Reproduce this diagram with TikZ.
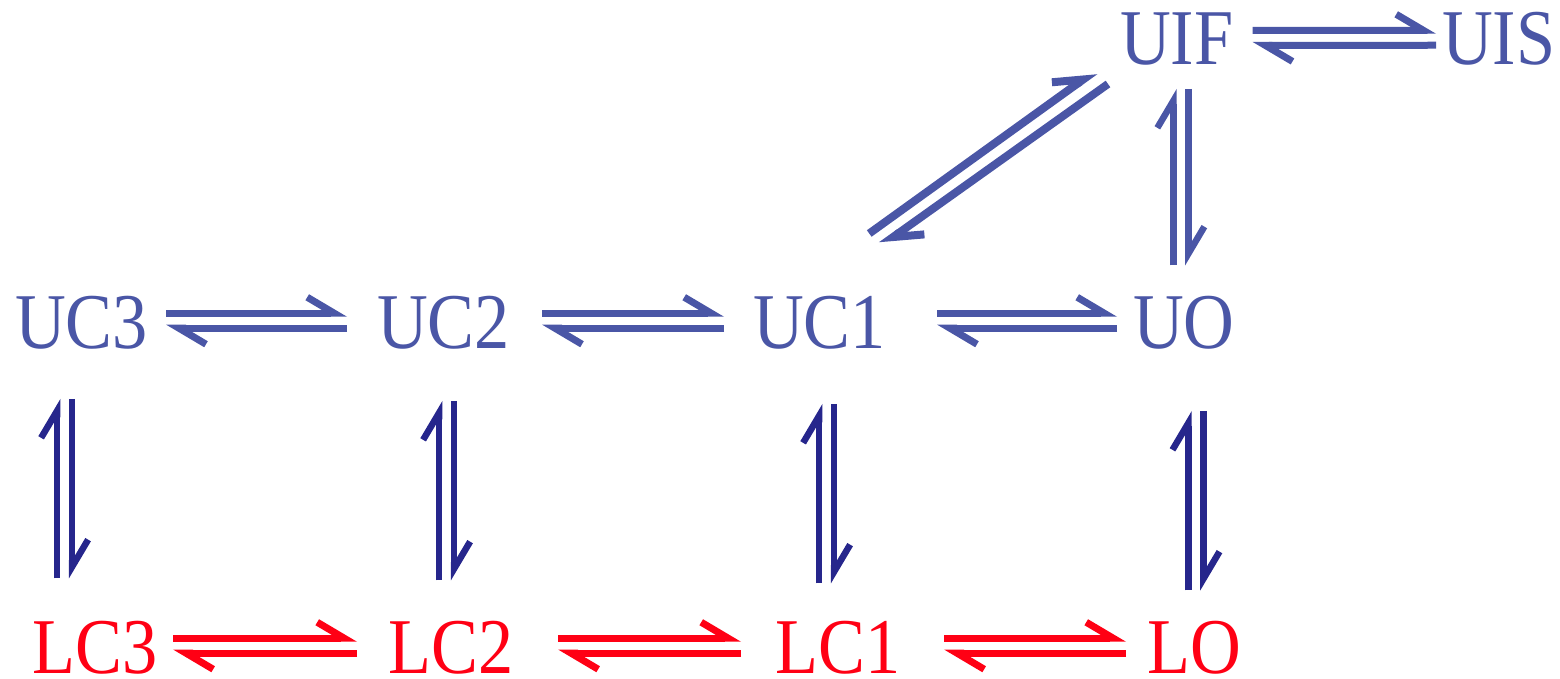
\documentclass[tikz,border=0pt]{standalone}
\usepackage{fontspec}
\setmainfont[FakeStretch=0.89]{Liberation Serif}
\usetikzlibrary{arrows.meta,calc}
\definecolor{ublue}{RGB}{74,86,166}
\definecolor{vblue}{RGB}{38,38,140}
\definecolor{lred}{RGB}{255,0,20}
\tikzset{
  lab/.style={anchor=base west, inner sep=0pt, font=\fontsize{79}{90}\selectfont},
  harp/.style={-{Straight Barb[left,length=27pt,width=32pt]}, line width=7pt},
  vharp/.style={harp, line width=6.5pt},
}
\newcommand\eqH[5]{%
  \draw[harp,#5,shorten <=#3,shorten >=#4] ([yshift=9pt]#1.east) -- ([yshift=9pt]#2.west);
  \draw[harp,#5,shorten <=#4,shorten >=#3] ([yshift=-6pt]#2.west) -- ([yshift=-6pt]#1.east);
}
\newcommand\eqV[6]{%
  \draw[vharp,#6,shorten <=#5,shorten >=#4] ($(#2.north -| #1.south)+(#3-7.5,0)$) -- ($(#1.south)+(#3-7.5,0)$);
  \draw[vharp,#6,shorten <=#4,shorten >=#5] ($(#1.south)+(#3+7.5,0)$) -- ($(#2.north -| #1.south)+(#3+7.5,0)$);
}
\begin{document}
\begin{tikzpicture}[x=1pt,y=-1pt]
\useasboundingbox (0,0) rectangle (1560,679);
% upper row
\node[lab,ublue] (UIF) at (1120,65) {UIF};
\node[lab,ublue] (UIS) at (1442,65) {UIS};
\node[lab,ublue] (UC3) at (15,348) {UC3};
\node[lab,ublue] (UC2) at (377,348) {UC2};
\node[lab,ublue] (UC1) at (753,348) {UC1};
\node[lab,ublue] (UO) at (1133,348) {UO};
% lower row
\node[lab,lred] (LC3) at (32,673) {LC3};
\node[lab,lred] (LC2) at (388,673) {LC2};
\node[lab,lred] (LC1) at (775,673) {LC1};
\node[lab,lred] (LO) at (1147,673) {LO};
% horizontal equilibria
\eqH{UC3}{UC2}{18pt}{30pt}{ublue}
\eqH{UC2}{UC1}{32pt}{29pt}{ublue}
\eqH{UC1}{UO}{51pt}{16pt}{ublue}
\eqH{UIF}{UIS}{19pt}{6pt}{ublue}
\eqH{LC3}{LC2}{16pt}{31pt}{lred}
\eqH{LC2}{LC1}{45pt}{34pt}{lred}
\eqH{LC1}{LO}{44pt}{21pt}{lred}
% vertical equilibria
\eqV{UC3}{LC3}{-17}{50pt}{42pt}{vblue}
\eqV{UC2}{LC2}{3}{52pt}{40pt}{vblue}
\eqV{UC1}{LC1}{7}{55pt}{37pt}{vblue}
\eqV{UO}{LO}{12}{62pt}{30pt}{vblue}
\eqV{UIF}{UO}{4}{23pt}{30pt}{ublue}
% diagonal UC1 - UIF
\draw[harp,ublue,line width=8pt] ($(UC1.north east)+(-17,-62)$) -- ($(UIF.south west)+(-25,5)$);
\draw[harp,ublue,line width=8pt] ($(UIF.south west)+(-12,18)$) -- ($(UC1.north east)+(-5,-50)$);
\end{tikzpicture}
\end{document}
